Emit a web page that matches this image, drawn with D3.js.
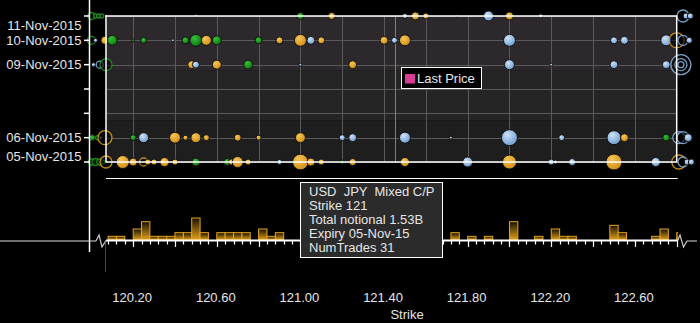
<!DOCTYPE html>
<html><head><meta charset="utf-8">
<script src="https://cdn.jsdelivr.net/npm/d3@7"></script>
<style>
html,body{margin:0;padding:0;background:#000;overflow:hidden}
svg{display:block}
text{font-family:"Liberation Sans",Arial,sans-serif;font-size:13px;fill:#e6e6e6}
</style>
</head><body><svg id="c" width="700" height="323"></svg>
<script>
// ---------------- DATA ----------------
// kinds: y = gold, b = blue, g = green (filled); Y/B/G = hollow ring (off-scale / overlapped)
// each trade: [strike, notional (USD millions), kind]
const expiryLabels = ["11-Nov-2015","10-Nov-2015","09-Nov-2015","06-Nov-2015","05-Nov-2015"];
const expiryDates  = ["2015-11-11","2015-11-10","2015-11-09","2015-11-06","2015-11-05"];

const trades11Nov = [
  [120.00,302,"G"],[120.02,99,"G"],[120.035,99,"G"],[120.05,99,"G"],[120.07,56,"y"],
  [120.50,56,"y"],[121.00,302,"g"],[121.15,302,"y"],[121.50,154,"b"],[121.55,395,"y"],
  [121.60,222,"y"],[121.75,25,"b"],[121.90,617,"b"],[122.00,395,"y"],[122.15,99,"b"],
  [122.83,889,"B"],[122.845,222,"b"],[122.865,222,"b"]
];
const trades10Nov = [
  [120.00,395,"G"],[120.02,99,"b"],[120.065,395,"y"],
  [120.10,617,"g"],[120.20,56,"g"],[120.25,222,"g"],[120.39,56,"b"],[120.45,302,"g"],
  [120.50,889,"g"],[120.55,617,"y"],[120.60,500,"g"],[120.80,302,"g"],[120.90,302,"y"],
  [121.00,889,"y"],[121.05,395,"b"],[121.10,302,"y"],[121.40,395,"y"],[121.45,222,"b"],
  [121.50,747,"y"],[122.00,889,"b"],[122.50,302,"b"],[122.55,395,"b"],[122.75,747,"b"],
  [122.80,1389,"Y"],[122.83,617,"B"],[122.86,222,"b"]
];
const trades09Nov = [
  [120.01,99,"b"],[120.04,302,"B"],[120.07,889,"G"],
  [120.48,395,"y"],[120.50,302,"b"],[120.60,500,"y"],[120.75,500,"g"],[121.00,56,"b"],
  [121.25,395,"y"],[122.00,617,"b"],[122.20,56,"b"],[122.50,395,"b"],[122.75,395,"b"],
  [122.82,2469,"B"],[122.82,889,"B"],[122.82,222,"B"]
];
const trades06Nov = [
  [120.005,222,"g"],[120.03,99,"G"],[120.045,56,"b"],[120.065,1210,"Y"],
  [120.20,222,"g"],[120.25,617,"b"],[120.40,747,"y"],[120.45,154,"y"],[120.50,617,"y"],
  [120.55,222,"y"],[120.70,302,"y"],[120.80,154,"y"],[121.00,617,"y"],[121.20,222,"b"],
  [121.25,395,"b"],[121.50,747,"b"],[121.72,56,"b"],[122.00,1580,"b"],[122.25,222,"b"],
  [122.50,1210,"b"],[122.55,395,"y"],[122.75,302,"g"],
  [122.81,889,"B"],[122.83,889,"B"],[122.855,395,"b"]
];
const trades05Nov = [
  [120.00,222,"G"],[120.02,302,"G"],[120.04,222,"G"],[120.055,99,"G"],[120.07,889,"Y"],
  [120.15,1043,"y"],[120.20,395,"y"],[120.25,395,"Y"],[120.27,222,"y"],[120.30,222,"y"],
  [120.35,500,"y"],[120.40,222,"y"],[120.50,395,"g"],[120.65,302,"g"],[120.67,222,"y"],
  [120.70,747,"y"],[120.75,222,"y"],[120.80,25,"b"],[120.85,25,"b"],[120.90,154,"b"],
  [121.00,1530,"y"],[121.05,395,"y"],[121.10,222,"y"],[121.20,99,"g"],[121.25,302,"y"],
  [121.50,500,"y"],[121.80,617,"b"],[122.00,1210,"y"],[122.20,222,"b"],[122.22,99,"b"],
  [122.30,302,"b"],[122.50,1580,"y"],[122.70,500,"b"],
  [122.81,1210,"Y"],[122.83,617,"B"],[122.85,222,"b"],[122.87,222,"b"]
];
const tradesByExpiry = [trades11Nov, trades10Nov, trades09Nov, trades06Nov, trades05Nov];

// histogram of trade counts per 0.04 strike bin (bin start)
const histBins   = [120.08,120.12,120.20,120.24,120.28,120.32,120.36,120.40,120.44,120.48,120.52,
                    120.60,120.64,120.68,120.72,120.80,120.84,120.88,121.72,121.80,121.88,122.00,
                    122.12,122.20,122.24,122.28,122.48,122.52,122.68,122.72,122.80];
const histCounts = [1,1,3,5,1,1,1,2,2,6,2,2,2,2,2,3,1,2,2,1,1,5,1,3,1,1,4,2,1,3,2];

const xTickValues = [120.20,120.60,121.00,121.40,121.80,122.20,122.60];
const xTickLabels = ["120.20","120.60","121.00","121.40","121.80","122.20","122.60"];
const lastPrice = 121.453;
const tooltipLines = ["USD  JPY  Mixed C/P","Strike 121","Total notional 1.53B","Expiry 05-Nov-15","NumTrades 31"];
const bandBreaks = ["2015-11-11","2015-11-08T18:00Z","2015-11-06T16:48Z","2015-11-05"];

// ---------------- CHART ----------------
const svg = d3.select("#c");
const W = 700, H = 323;
const pL = 106, pR = 676.7, pT = 16, pB = 162;

const x = d3.scaleLinear().domain([120.07, 122.80]).range([pL, pR]);
const y = d3.scaleUtc().domain([new Date("2015-11-05"), new Date("2015-11-11")]).range([pB, pT]);
const r = d3.scaleSqrt().domain([0, 2000]).range([0, 9]);
const hy = d3.scaleLinear().domain([0, 6]).range([240, 218]);

const defs = svg.append("defs");
const palette = {
  y: {hi:"#f5c558", lo:"#cf8d14", stroke:"#e0a020"},
  b: {hi:"#cfe2f5", lo:"#6b9ad0", stroke:"#8cb8e4"},
  g: {hi:"#35c035", lo:"#107410", stroke:"#1f9a1f"}
};
Object.entries(palette).forEach(([k,c])=>{
  const g = defs.append("radialGradient").attr("id","rg-"+k)
    .attr("cx","38%").attr("cy","32%").attr("r","72%");
  g.append("stop").attr("offset","0%").attr("stop-color",c.hi);
  g.append("stop").attr("offset","100%").attr("stop-color",c.lo);
});
const hg = defs.append("linearGradient").attr("id","hg").attr("x1",0).attr("y1",0).attr("x2",0).attr("y2",1);
hg.append("stop").attr("offset","0%").attr("stop-color","#181200");
hg.append("stop").attr("offset","100%").attr("stop-color","#e3a11a");
defs.append("clipPath").attr("id","hclip").append("rect")
  .attr("x",pL).attr("y",200).attr("width",pR-pL+1.5).attr("height",50);

svg.append("rect").attr("width",W).attr("height",H).attr("fill","#000");

// background bands
const bandColors = ["#2c282c","#252525","#1e1e1e"];
for (let i=0;i<bandBreaks.length-1;i++){
  const y0 = y(new Date(bandBreaks[i])), y1 = y(new Date(bandBreaks[i+1]));
  svg.append("rect").attr("x",pL).attr("y",y0).attr("width",pR-pL).attr("height",y1-y0).attr("fill",bandColors[i]);
}

// grid
const days = y.ticks(d3.utcDay.every(1));
svg.append("g").selectAll("line").data(days).join("line")
  .attr("x1",pL).attr("x2",pR).attr("y1",d=>Math.round(y(d))+0.5).attr("y2",d=>Math.round(y(d))+0.5)
  .attr("stroke","#5a5a5a").attr("stroke-width",1);
const vgrid = d3.range(120.20, 122.61, 0.2);
svg.append("g").selectAll("line").data(vgrid).join("line")
  .attr("x1",d=>Math.round(x(d))+0.5).attr("x2",d=>Math.round(x(d))+0.5).attr("y1",pT).attr("y2",pB)
  .attr("stroke","#5a5a5a").attr("stroke-width",1);

// last price line
const lpx = Math.round(x(lastPrice)) + 0.5;
svg.append("line").attr("x1",lpx).attr("x2",lpx).attr("y1",pT).attr("y2",pB)
  .attr("stroke","#e8449e").attr("stroke-width",1);

// bubbles
const bubbleG = svg.append("g");
tradesByExpiry.forEach((rows,i)=>{
  const cy = y(new Date(expiryDates[i]));
  bubbleG.append("g").selectAll("circle").data(rows).join("circle")
    .attr("cx",d=>x(d[0])).attr("cy",cy).attr("r",d=>r(d[1]))
    .attr("fill",d=>{ const k=d[2]; return k===k.toLowerCase() ? "url(#rg-"+k+")" : "rgba(0,0,0,0.55)"; })
    .attr("stroke",d=>{ const k=d[2]; return k===k.toLowerCase() ? "#111" : palette[k.toLowerCase()].stroke; })
    .attr("stroke-opacity",d=>{ const k=d[2]; return k===k.toLowerCase() ? 1 : 0.85; })
    .attr("stroke-width",d=>{ const k=d[2]; return k===k.toLowerCase() ? 1 : 1.3; });
});

// plot border
svg.append("rect").attr("x",pL).attr("y",pT).attr("width",pR-pL).attr("height",pB-pT)
  .attr("fill","none").attr("stroke","#fff").attr("stroke-width",1.5);

// Last Price legend
svg.append("rect").attr("x",401.5).attr("y",67.5).attr("width",80).attr("height",21)
  .attr("fill","#000").attr("stroke","#fff").attr("stroke-width",1);
svg.append("rect").attr("x",405).attr("y",74).attr("width",10).attr("height",9.5).attr("fill","#d83c94");
svg.append("text").attr("x",417).attr("y",83).text("Last Price");

// y axis
svg.append("line").attr("x1",89.5).attr("x2",89.5).attr("y1",0).attr("y2",252)
  .attr("stroke","#fff").attr("stroke-width",1.5);
svg.append("g").selectAll("line").data(days).join("line")
  .attr("x1",84).attr("x2",89.5).attr("y1",d=>y(d)).attr("y2",d=>y(d))
  .attr("stroke","#fff").attr("stroke-width",1.5);
svg.append("g").selectAll("text").data(expiryLabels).join("text")
  .attr("x",81.5).attr("text-anchor","end")
  .attr("y",(d,i)=>Math.min(Math.max(y(new Date(expiryDates[i])),25),156.5)+4.7)
  .text(d=>d);

// separator line
svg.append("line").attr("x1",pL).attr("x2",pR+1).attr("y1",178.5).attr("y2",178.5)
  .attr("stroke","#fff").attr("stroke-width",1.2);

// histogram
svg.append("g").attr("clip-path","url(#hclip)").selectAll("rect").data(histBins).join("rect")
  .attr("x",d=>x(d)).attr("width",d=>x(d+0.04)-x(d))
  .attr("y",(d,i)=>hy(histCounts[i])).attr("height",(d,i)=>hy(0)-hy(histCounts[i]))
  .attr("fill","url(#hg)").attr("stroke","#e8a41c").attr("stroke-width",1);

// histogram axis
const hb = 240.5;
svg.append("line").attr("x1",0).attr("x2",96).attr("y1",241).attr("y2",241).attr("stroke","#ddd").attr("stroke-width",1);
svg.append("line").attr("x1",pL).attr("x2",pR+1).attr("y1",hb).attr("y2",hb).attr("stroke","#fff").attr("stroke-width",2);
svg.append("line").attr("x1",690).attr("x2",697).attr("y1",241).attr("y2",241).attr("stroke","#ddd").attr("stroke-width",1);
svg.append("path").attr("d",`M96,241 L99,235 L102,247 L${pL},240.5`).attr("fill","none").attr("stroke","#ccc").attr("stroke-width",1.2);
svg.append("path").attr("d",`M${pR+1},240.5 L680,235 L683.5,247 L687,241 L690,241`).attr("fill","none").attr("stroke","#ccc").attr("stroke-width",1.2);
const htick = d3.range(0, 69).map(k=>120.08 + k*0.04);
svg.append("g").selectAll("line").data(htick).join("line")
  .attr("x1",d=>Math.round(x(d))+0.5).attr("x2",d=>Math.round(x(d))+0.5)
  .attr("y1",hb).attr("y2",(d,i)=>((i-3)%5===0)?247:244.5)
  .attr("stroke","#fff").attr("stroke-width",1.2);
svg.append("line").attr("x1",105.5).attr("x2",105.5).attr("y1",242).attr("y2",272).attr("stroke","#444").attr("stroke-width",1);

// x labels
svg.append("g").selectAll("text").data(xTickValues).join("text")
  .attr("x",d=>x(d)-1).attr("y",301.5).attr("text-anchor","middle")
  .text((d,i)=>xTickLabels[i]);
svg.append("text").attr("x",407).attr("y",318.5).attr("text-anchor","middle").text("Strike");

// tooltip
svg.append("rect").attr("x",300.5).attr("y",182.5).attr("width",142).attr("height",75)
  .attr("fill","#2b2b2b").attr("stroke","#fff").attr("stroke-width",1);
svg.append("g").selectAll("text").data(tooltipLines).join("text")
  .attr("x",309).attr("y",(d,i)=>196+i*14).attr("xml:space","preserve")
  .style("white-space","pre").text(d=>d);
</script>
</body></html>
